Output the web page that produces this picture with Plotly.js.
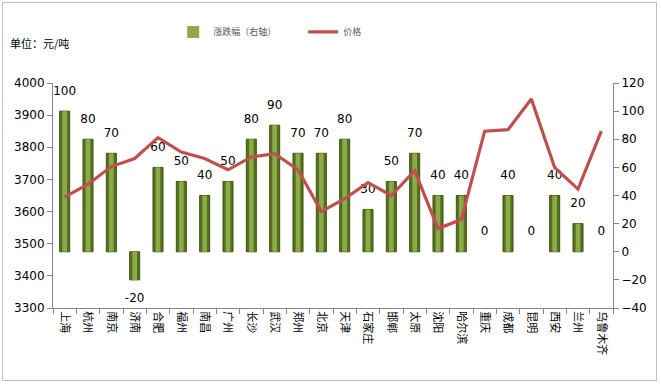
<!DOCTYPE html>
<html>
<head>
<meta charset="utf-8">
<script src="https://cdn.plot.ly/plotly-3.0.1.min.js"></script>
<style>
  html, body { margin: 0; padding: 0; background: #fff; }
  #wrap { position: relative; width: 661px; height: 385px; }
  #chart { width: 661px; height: 385px; }
  #frame { position: absolute; left: 2px; top: 2px; width: 655px; height: 379px;
           border: 1px solid #bfbfbf; pointer-events: none; box-sizing: border-box; }
</style>
</head>
<body>
<div id="wrap"><div id="chart"></div><div id="frame"></div></div>
<script>
const categories = ['上海','杭州','南京','济南','合肥','福州','南昌','广州','长沙','武汉','郑州','北京','天津','石家庄','邯郸','太原','沈阳','哈尔滨','重庆','成都','昆明','西安','兰州','乌鲁木齐'];
const changeValues = [100, 80, 70, -20, 60, 50, 40, 50, 80, 90, 70, 70, 80, 30, 50, 70, 40, 40, 0, 40, 0, 40, 20, 0];
const priceValues = [3645, 3685, 3740, 3765, 3830, 3785, 3765, 3730, 3770, 3780, 3730, 3600, 3640, 3690, 3650, 3727, 3547, 3575, 3850, 3855, 3950, 3737, 3670, 3850];
const leftTicks = [3300, 3400, 3500, 3600, 3700, 3800, 3900, 4000];
const rightTicks = [-40, -20, 0, 20, 40, 60, 80, 100, 120];

const FONT = 'DejaVu Sans, Noto Sans CJK SC, sans-serif';

const barTrace = {
  type: 'bar', showlegend: false,
  x: categories, y: changeValues, yaxis: 'y',
  width: 0.43,
  marker: { color: '#55701f', line: { color: '#3f5416', width: changeValues.map(v => v === 0 ? 0 : 1) } },
  hoverinfo: 'skip'
};
const barHighlight = {
  type: 'bar', name: '涨跌幅（右轴）',
  x: categories, y: changeValues, yaxis: 'y',
  width: 0.2,
  marker: { color: '#8aab47', line: { width: 0 } },
  hoverinfo: 'skip'
};
const labelTrace = {
  type: 'scatter', mode: 'markers+text', showlegend: false,
  x: categories, y: changeValues, yaxis: 'y',
  text: changeValues.map(String),
  textposition: changeValues.map(v => v < 0 ? 'bottom center' : 'top center'),
  textfont: { family: FONT, size: 12, color: '#000' },
  marker: { size: 20, color: 'rgba(0,0,0,0)' },
  hoverinfo: 'skip', cliponaxis: false
};
const lineTrace = {
  type: 'scatter', mode: 'lines', name: '价格',
  x: categories, y: priceValues, yaxis: 'y2',
  line: { color: '#c0504d', width: 3.2 },
  hoverinfo: 'skip'
};

const axisCommon = {
  ticks: 'outside', ticklen: 5, tickcolor: '#868686',
  showline: true, linecolor: '#868686', linewidth: 1,
  showgrid: false, zeroline: false, fixedrange: true, automargin: false
};

const layout = {
  width: 661, height: 385,
  margin: { l: 53, r: 48, t: 83, b: 77 },
  paper_bgcolor: '#fff', plot_bgcolor: '#fff',
  font: { family: FONT, size: 12, color: '#000' },
  barmode: 'overlay',
  showlegend: true,
  legend: {
    orientation: 'h', xref: 'container', yref: 'container',
    x: 0.262, xanchor: 'left', y: 0.917, yanchor: 'middle',
    font: { family: FONT, size: 9, color: '#595959' },
    entrywidth: 85, itemwidth: 30, traceorder: 'normal'
  },
  xaxis: Object.assign({}, axisCommon, {
    type: 'category', tickangle: 90, tickson: 'boundaries',
    range: [-0.5, categories.length - 0.5],
    tickfont: { family: FONT, size: 11, color: '#000' }
  }),
  yaxis: Object.assign({}, axisCommon, {
    side: 'right', range: [-40, 120], tickvals: rightTicks,
    tickfont: { family: FONT, size: 12, color: '#000' }
  }),
  yaxis2: Object.assign({}, axisCommon, {
    side: 'left', overlaying: 'y', range: [3300, 4000], tickvals: leftTicks,
    tickfont: { family: FONT, size: 12, color: '#000' }
  }),
  annotations: [{
    text: '单位：元/吨', xref: 'paper', yref: 'paper',
    x: -0.08, xanchor: 'left', y: 1.18, yanchor: 'middle',
    showarrow: false, font: { family: 'Noto Sans CJK SC, sans-serif', size: 11, color: '#000' }
  }]
};

Plotly.newPlot('chart', [barTrace, barHighlight, labelTrace, lineTrace], layout, { displayModeBar: false, staticPlot: true });
</script>
</body>
</html>
